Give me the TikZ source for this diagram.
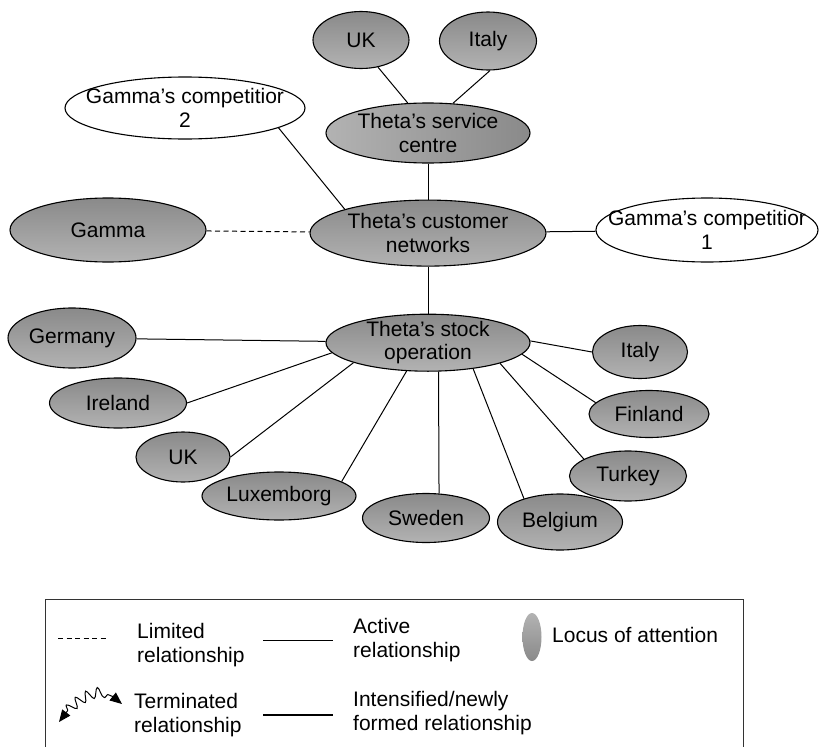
\documentclass[tikz,border=0pt]{standalone}
\usepackage{fontspec}
\setmainfont{Liberation Sans}
\usetikzlibrary{shapes.geometric,positioning,arrows.meta,decorations.pathmorphing}
\definecolor{locusdark}{gray}{0.54}
\definecolor{locuslight}{gray}{0.70}
\tikzset{
  locus/.style={ellipse, draw, line width=1.1pt, inner xsep=-40pt, inner ysep=-8pt, align=center, top color=locusdark, bottom color=locuslight},
  rival/.style={ellipse, draw, line width=1.1pt, fill=white, inner xsep=-40pt, inner ysep=-8pt, align=center},
  activerel/.style={line width=1pt},
  limitedrel/.style={line width=1pt, dash pattern=on 5pt off 3.5pt},
  newrel/.style={line width=2.6pt},
  endedrel/.style={line width=1pt, {Triangle[length=12pt,width=10pt]}-{Triangle[length=12pt,width=10pt]},
    decorate, decoration={snake, amplitude=5pt, segment length=11pt, pre length=14pt, post length=12pt}},
  legendtxt/.style={anchor=base west, align=left, inner sep=0pt}
}

\begin{document}
\begin{tikzpicture}[x=1pt, y=-1pt, font=\fontsize{21}{23.5}\selectfont]
    \useasboundingbox (0,0) rectangle (828,747);
    % Theta
    \node[locus, minimum width=204pt, minimum height=60pt, shading angle=-90] (SC) at (428,133) {Theta’s service\\centre};
    \node[locus, minimum width=236pt, minimum height=66pt, below=36pt of SC] (CN) {Theta’s customer\\networks};
    \node[locus, minimum width=204pt, minimum height=57pt, below=47pt of CN] (SO) {Theta’s stock\\operation};
    % service centre
    \node[locus, minimum width=96pt, minimum height=57pt] (UK1) at (361,40) {UK};
    \node[locus, minimum width=97pt, minimum height=58pt] (IT1) at (488,41) {Italy};
    % Gamma and competitors
    \node[rival, minimum width=240pt, minimum height=62pt] (GC2) at (185,108) {Gamma’s competitior\\2};
    \node[locus, minimum width=196pt, minimum height=64pt] (GA) at (108,230) {Gamma};
    \node[rival, minimum width=222pt, minimum height=64pt] (GC1) at (707,230) {Gamma’s competitior\\1};
    % stock operation
    \node[locus, minimum width=128pt, minimum height=60pt] (DE) at (72,338) {Germany};
    \node[locus, minimum width=137pt, minimum height=50pt] (IE) at (118,403) {Ireland};
    \node[locus, minimum width=94pt, minimum height=50pt] (UK2) at (183,457) {UK};
    \node[locus, minimum width=154pt, minimum height=48pt] (LU) at (279,496) {Luxemborg};
    \node[locus, minimum width=127pt, minimum height=49pt] (SE) at (426,518) {Sweden};
    \node[locus, minimum width=125pt, minimum height=56pt] (BE) at (560,522) {Belgium};
    \node[locus, minimum width=117pt, minimum height=50pt] (TR) at (628,476) {Turkey};
    \node[locus, minimum width=120pt, minimum height=47pt] (FI) at (649,414) {Finland};
    \node[locus, minimum width=95pt, minimum height=53pt] (IT2) at (640,352) {Italy};

    \draw[activerel] (UK1.302) -- (SC.124);
    \draw[activerel] (IT1.274) -- (SC.50);
    \draw[activerel] (SC) -- (CN);
    \draw[activerel] (GC2.-12) -- (CN.164);
    \draw[limitedrel] (GA) -- (CN);
    \draw[activerel] (CN) -- (GC1);
    \draw[activerel] (CN) -- (SO);
    \draw[activerel] (DE) -- (SO);
    \draw[activerel] (IE.east) -- (SO.186);
    \draw[activerel] (UK2.east) -- (SO.195);
    \draw[activerel] (LU.13) -- (SO.233);
    \draw[activerel] (SE.62) -- (SO.290);
    \draw[activerel] (BE.147) -- (SO.330);
    \draw[activerel] (TR.159) -- (SO.344);
    \draw[activerel] (FI.168) -- (SO.353);
    \draw[activerel] (IT2.west) -- (SO.1);

    % legend
    \draw[black!80, line width=1pt] (45,747) -- (45,599) -- (743,599) -- (743,747);
    \coordinate (L1) at (58,638);
    \coordinate (L2) at (108,638);
    \coordinate (A1) at (263,640);
    \coordinate (A2) at (333,640);
    \coordinate (W1) at (59,722);
    \coordinate (W2) at (122,704);
    \coordinate (N1) at (263,715);
    \coordinate (N2) at (333,715);
    \draw[limitedrel] (L1) -- (L2);
    \draw[activerel] (A1) -- (A2);
    \draw[endedrel] (W1) .. controls (72,700) and (104,682) .. (W2);
    \draw[newrel] (N1) -- (N2);
    \node[legendtxt] (LT) at (137,662) {Limited\\relationship};
    \node[legendtxt] (AT) at (353,657) {Active\\relationship};
    \node[legendtxt] (TT) at (134,732) {Terminated\\relationship};
    \node[legendtxt] (NT) at (353,730) {Intensified/newly\\formed relationship};
    \node[locus, draw=none, minimum width=19pt, minimum height=48pt, shading angle=180] (LE) at (532,637) {};
    \node[legendtxt] (LET) at (552,642) {Locus of attention};
\end{tikzpicture}
\end{document}
